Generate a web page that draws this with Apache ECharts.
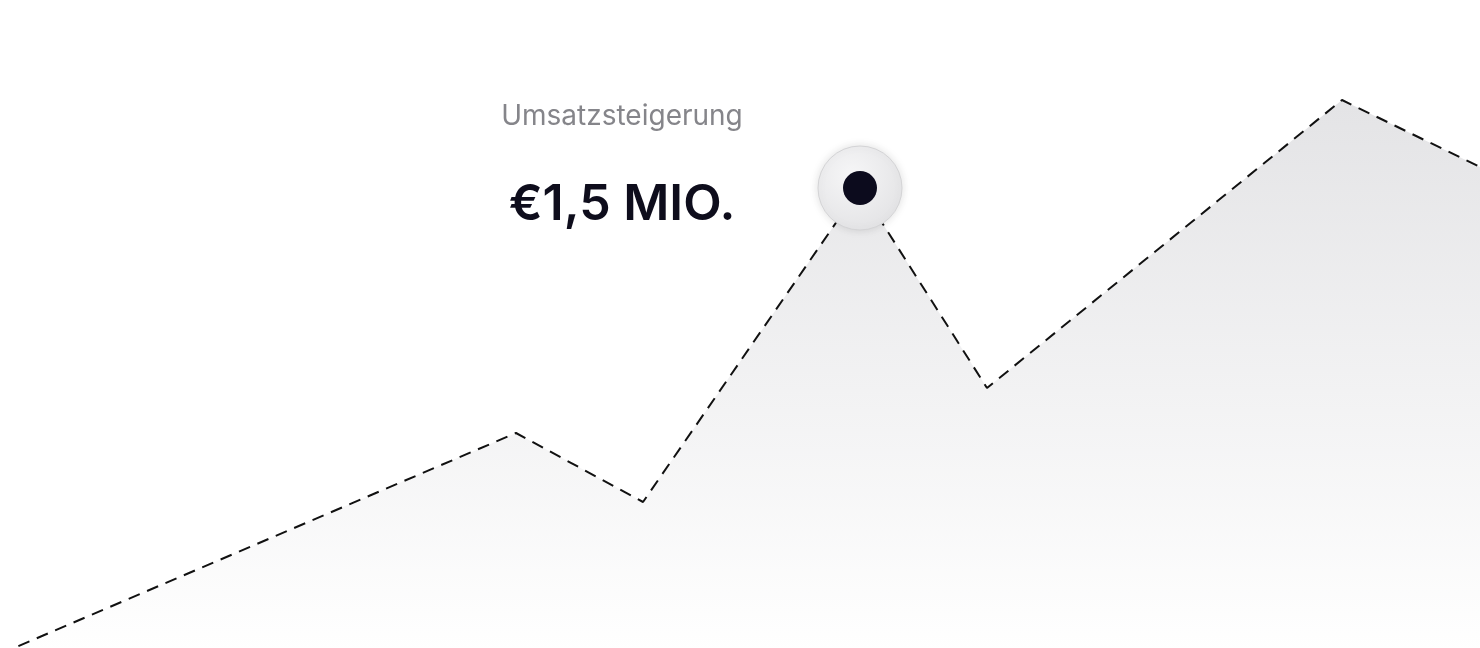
<!DOCTYPE html>
<html>
<head>
<meta charset="utf-8">
<script src="https://cdn.jsdelivr.net/npm/echarts@6/dist/echarts.min.js"></script>
<style>
  html, body { margin: 0; padding: 0; background: #fff; }
  #chart { width: 1480px; height: 648px; }
</style>
</head>
<body>
<div id="chart"></div>
<script>
// points along the revenue curve (x position, value)
var xs = [0, 516, 643, 860, 987, 1342, 1480];
var revenue = [-6, 215, 146, 460, 260, 548, 481];
var highlightIndex = 3;
var labelTitle = 'Umsatzsteigerung';
var labelValue = '€1,5 MIO.';

var lineData = xs.map(function (x, i) { return [x, revenue[i]]; });
var peak = [lineData[highlightIndex]];

var chart = echarts.init(document.getElementById('chart'));

chart.setOption({
    animation: false,
    backgroundColor: '#ffffff',
    grid: { left: 0, right: 0, top: 0, bottom: 0 },
    xAxis: { type: 'value', min: 0, max: 1480, show: false },
    yAxis: { type: 'value', min: 0, max: 648, show: false },
    graphic: [
        {
            type: 'text',
            style: {
                text: labelTitle,
                x: 622, y: 117,
                align: 'center',
                verticalAlign: 'middle',
                font: '400 28px Inter',
                fill: '#85858a'
            }
        },
        {
            type: 'text',
            style: {
                text: labelValue,
                x: 622, y: 205,
                align: 'center',
                verticalAlign: 'middle',
                font: '600 50px Inter',
                fill: '#0e0d1c'
            }
        }
    ],
    series: [
        {
            type: 'line',
            data: lineData,
            symbol: 'none',
            lineStyle: { color: '#111', width: 2, type: [12, 8] },
            areaStyle: {
                color: new echarts.graphic.LinearGradient(0, 0, 0, 1, [
                    { offset: 0, color: '#d8d8db' },
                    { offset: 1, color: '#ffffff' }
                ])
            },
            z: 2
        },
        {
            type: 'scatter',
            data: peak,
            symbolSize: 84,
            itemStyle: {
                opacity: 1,
                color: new echarts.graphic.RadialGradient(0.4, 0.35, 0.7, [
                    { offset: 0, color: '#f6f6f7' },
                    { offset: 1, color: '#e3e3e5' }
                ]),
                borderColor: '#d4d4d6',
                borderWidth: 1,
                shadowBlur: 8,
                shadowColor: 'rgba(0,0,0,0.12)'
            },
            z: 5
        },
        {
            type: 'scatter',
            data: peak,
            symbolSize: 34,
            itemStyle: { opacity: 1, color: '#0c0b1d' },
            z: 6
        }
    ]
});
</script>
</body>
</html>
